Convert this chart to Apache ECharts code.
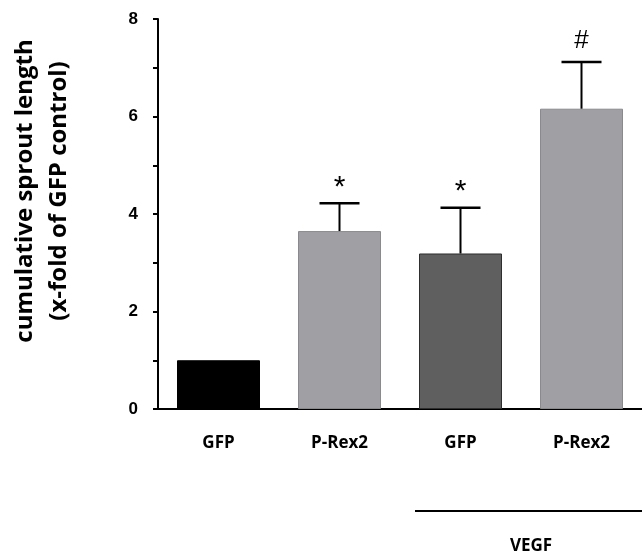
<!DOCTYPE html>
<html>
<head>
<meta charset="utf-8">
<script src="https://cdn.jsdelivr.net/npm/echarts@6/dist/echarts.min.js"></script>
<style>html,body{margin:0;padding:0;background:#fff;}#c{width:642px;height:554px;}</style>
</head>
<body>
<div id="c"></div>
<script>
var categories = ['GFP', 'P-Rex2', 'GFP', 'P-Rex2'];
var values = [1.0, 3.65, 3.19, 6.16];
var errors = [0, 0.57, 0.94, 0.96];
var marks = ['', '*', '*', '#'];
var barColors = ['#000000', '#a09fa4', '#5f5f5f', '#a09fa4'];
var barBorders = ['#000000', '#8a898e', '#2e2e2e', '#8a898e'];
var yTitle = ['cumulative sprout length', '(x-fold of GFP control)'];
var groupLabel = 'VEGF';

var chart = echarts.init(document.getElementById('c'), null, {renderer: 'canvas'});
var labelFont = '"Open Sans", sans-serif';

var option = {
  animation: false,
  backgroundColor: '#ffffff',
  grid: {left: 158, right: -6, top: 19, bottom: 145, containLabel: false},
  xAxis: {
    type: 'category',
    data: categories,
    boundaryGap: true,
    axisLine: {show: true, lineStyle: {color: '#000', width: 2}},
    axisTick: {show: false},
    axisLabel: {color: '#000', fontFamily: labelFont, fontWeight: 'bold', fontSize: 17, margin: 26}
  },
  yAxis: {
    type: 'value',
    min: 0, max: 8, interval: 2,
    axisLine: {show: true, lineStyle: {color: '#000', width: 2}},
    axisTick: {show: true, length: 5, lineStyle: {color: '#000', width: 2}},
    minorTick: {show: true, splitNumber: 2, length: 5, lineStyle: {color: '#000', width: 2}},
    splitLine: {show: false},
    axisLabel: {color: '#000', fontFamily: '"Liberation Sans Narrow", "Liberation Sans", sans-serif', fontWeight: 'bold', fontSize: 17, margin: 20}
  },
  series: [
    {
      type: 'bar',
      barWidth: 83,
      data: values.map(function (v, i) {
        return {value: v, itemStyle: {color: barColors[i], borderColor: barBorders[i], borderWidth: 1}};
      }),
      z: 2
    },
    {
      type: 'custom',
      z: 3,
      data: values.map(function (v, i) { return [i, v, v + errors[i], marks[i]]; }),
      renderItem: function (params, api) {
        var i = api.value(0);
        var base = api.coord([i, api.value(1)]);
        var top = api.coord([i, api.value(2)]);
        var children = [];
        if (api.value(2) > api.value(1)) {
          children.push({type: 'line', shape: {x1: base[0], y1: base[1], x2: top[0], y2: top[1]}, style: {stroke: '#000', lineWidth: 2}});
          children.push({type: 'line', shape: {x1: top[0] - 20, y1: top[1], x2: top[0] + 20, y2: top[1]}, style: {stroke: '#000', lineWidth: 2.5}});
        }
        var m = marks[params.dataIndex];
        if (m) {
          children.push({type: 'text', style: {text: m, x: top[0], y: top[1] - (m === '*' ? 16 : 21), align: 'center', verticalAlign: 'middle', fill: '#000', font: (m === '*' ? '30px' : '26px') + ' "Liberation Sans", sans-serif'}});
        }
        return {type: 'group', children: children};
      }
    }
  ],
  graphic: [
    {type: 'text', x: 42, y: 191, rotation: Math.PI / 2,
     style: {text: yTitle.join('\n'), fill: '#000', font: 'bold 24px "Open Sans", sans-serif', align: 'center', verticalAlign: 'middle', lineHeight: 34}},
    {type: 'line', shape: {x1: 415, y1: 511, x2: 642, y2: 511}, style: {stroke: '#000', lineWidth: 2}},
    {type: 'text', x: 531, y: 546, style: {text: groupLabel, fill: '#000', font: 'bold 17px "Open Sans", sans-serif', align: 'center', verticalAlign: 'middle'}}
  ]
};
chart.setOption(option);
</script>
</body>
</html>
